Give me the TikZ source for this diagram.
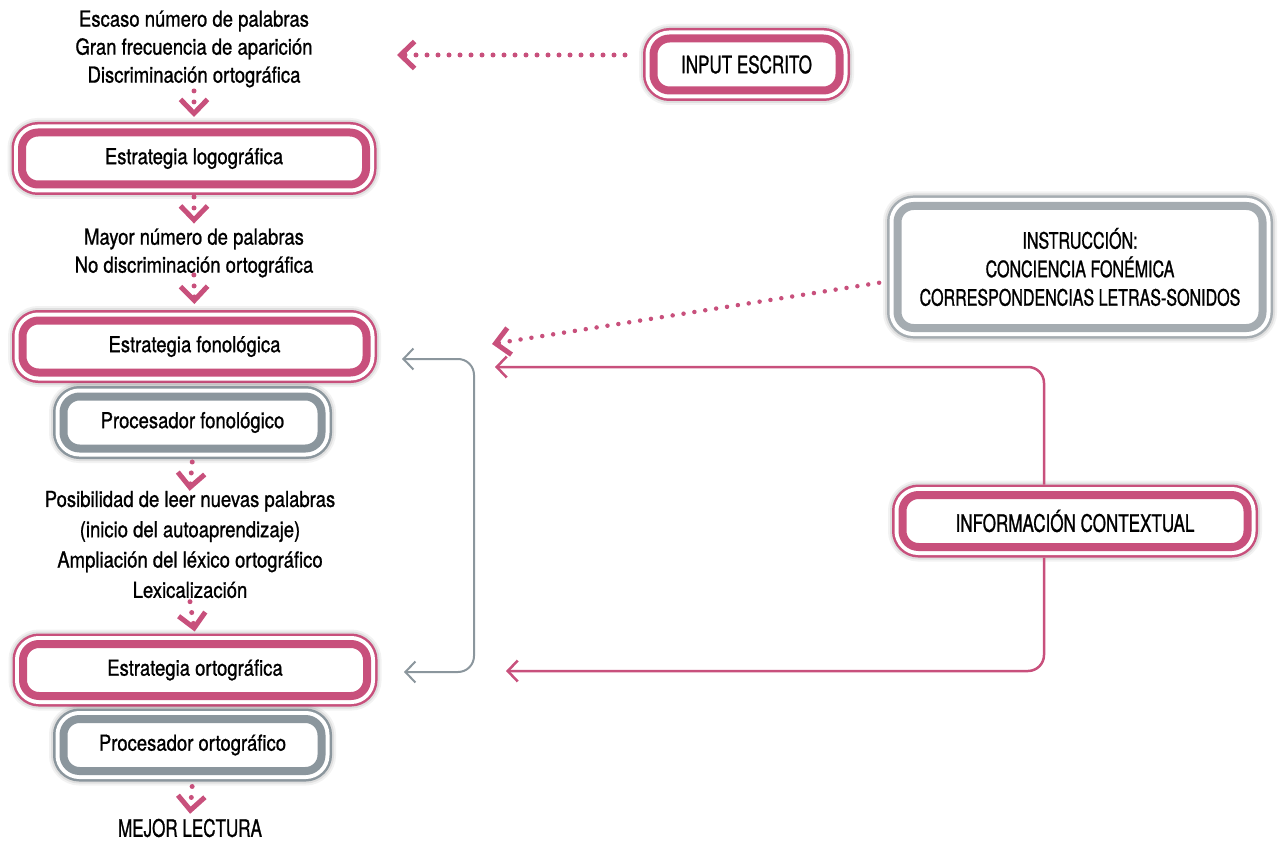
\documentclass[tikz,border=0pt]{standalone}
\usepackage{fontspec}
\setmainfont{TeX Gyre Heros}[FakeStretch=0.84, FakeBold=1]
\newfontfamily\capsfont{TeX Gyre Heros}[FakeStretch=0.71, FakeBold=1]
\usetikzlibrary{arrows.meta}
\definecolor{rosa}{HTML}{C8507C}
\definecolor{gris}{HTML}{8B969D}
\definecolor{grisclaro}{HTML}{A5ACB1}

\begin{document}
\begin{tikzpicture}[
          x=1pt, y=-1pt,
          >={Straight Barb[length=10pt, width=21pt]},
          every node/.style={font=\fontsize{22}{28}\selectfont, align=center},
          caja/.style={rounded corners=16pt, minimum height=52pt, inner sep=0pt,
            outer sep=10.5pt,
            preaction={draw=black, opacity=0.05, line width=29pt},
            preaction={draw=black, opacity=0.08, line width=25pt},
            preaction={draw=#1, line width=21pt},
            preaction={draw=white, line width=16pt},
            draw=#1, line width=8pt, fill=white},
          estrategia/.style={caja=rosa, minimum width=344pt},
          procesador/.style={caja=gris, minimum width=258pt},
          mayus/.style={font=\capsfont\fontsize{24}{30}\selectfont},
          puntos/.style={draw=rosa, line width=5pt, line cap=round,
            dash pattern=on 0pt off 11pt,
            -{Straight Barb[length=14pt, width=27pt, line width=5pt]}},
          flecha/.style={line width=2.5pt, rounded corners=16pt}
      ]
        \useasboundingbox (0,0) rectangle (1279,842);
        % columna de la izquierda
        \node (escaso) at (194,49) {Escaso número de palabras\\Gran frecuencia de aparición\\Discriminación ortográfica};
        \node[estrategia] (logo) at (194,158.5) {Estrategia logográfica};
        \node (mayor) at (194,253) {Mayor número de palabras\\No discriminación ortográfica};
        \node[estrategia] (fono) at (194.5,346.5) {Estrategia fonológica};
        \node[procesador] (pfono) at (192.5,422.5) {Procesador fonológico};
        \node[font=\fontsize{22}{30.3}\selectfont] (posib) at (190,544.5) {Posibilidad de leer nuevas palabras\\(inicio del autoaprendizaje)\\Ampliación del léxico ortográfico\\Lexicalización};
        \node[estrategia] (orto) at (195,670) {Estrategia ortográfica};
        \node[procesador] (porto) at (192.5,745) {Procesador ortográfico};
        \node[mayus] (mejor) at (190,828) {MEJOR LECTURA};
        % cajas de la derecha
        \node[caja=rosa, mayus, minimum width=186pt] (input) at (746.5,64.5) {INPUT ESCRITO};
        \node[caja=grisclaro, mayus, font=\capsfont\fontsize{22.6}{28.5}\selectfont, minimum width=365pt, minimum height=122pt] (instr) at (1080,267) {INSTRUCCIÓN:\\CONCIENCIA FONÉMICA\\CORRESPONDENCIAS LETRAS-SONIDOS};
        \node[caja=rosa, mayus, minimum width=345pt] (info) at (1075,521) {INFORMACIÓN CONTEXTUAL};
        % flechas punteadas hacia abajo
        \draw[puntos, shorten >=5pt] (escaso.south) -- (logo.north);
        \draw[puntos, shorten <=2pt, shorten >=1.5pt] (logo.south) -- (mayor.north);
        \draw[puntos, shorten <=-6pt, shorten >=6pt] (mayor.south) -- (fono.north);
        \draw[puntos, shorten <=3pt, shorten >=-3.5pt] (pfono.south) -- (posib.north);
        \draw[puntos, shorten >=2pt] (posib.south) -- (orto.north);
        \draw[puntos, shorten <=5pt, shorten >=1.5pt] (porto.south) -- (mejor.north);
        % entradas
        \coordinate (tipinput) at (397,55);
        \coordinate (tipinstr) at (492,344);
        \draw[puntos, shorten <=18pt] ([yshift=9.5pt]input.west) -- (tipinput);
        \draw[puntos, line width=4.5pt, shorten <=8pt] ([yshift=-14.5pt]instr.west) -- (tipinstr);
        % retroalimentacion
        \coordinate (gtop) at (402,359);
        \coordinate (gbot) at (404,672);
        \draw[flecha, gris, line width=2pt, <->] (gtop) -| (474,500) |- (gbot);
        \coordinate (ctop) at (495,367);
        \coordinate (cbot) at (506,671);
        \draw[flecha, rosa, ->] ([xshift=-31pt]info.north) |- (ctop);
        \draw[flecha, rosa, ->] ([xshift=-31pt]info.south) |- (cbot);
      \end{tikzpicture}
\end{document}
